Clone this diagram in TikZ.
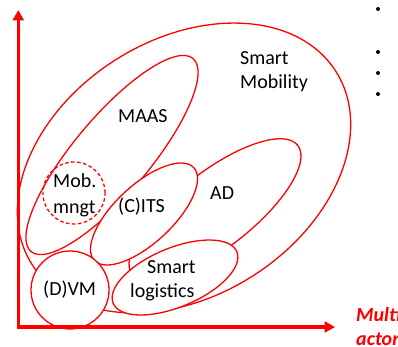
\documentclass[tikz,border=0pt]{standalone}
\usepackage{fontspec}
\setmainfont{Carlito}
\usetikzlibrary{shapes.geometric,arrows.meta}
\definecolor{sred}{RGB}{255,0,0}
\begin{document}
\begin{tikzpicture}[x=1pt,y=-1pt,
  blob/.style={ellipse, draw=sred, line width=1.3pt, fill=white, inner sep=0pt},
  ring/.style={circle, draw=sred, line width=1.3pt, inner sep=0pt},
  lbl/.style={font=\fontsize{20}{24}\selectfont, inner sep=0pt, anchor=base west, text=black},
  axislbl/.style={font=\fontsize{20}{24}\selectfont\bfseries\itshape, inner sep=0pt, anchor=base west, text=sred},
  axis/.style={draw=sred, line width=3.2pt,
    {Triangle[length=10.5pt,width=11pt]}-{Triangle[length=10.5pt,width=11pt]}},
  dot/.style={circle, fill=black, inner sep=0pt, minimum size=4pt}]
\useasboundingbox[fill=white] (0,0) rectangle (398,347);

% nested fields, back to front
\node[blob, minimum width=360pt, minimum height=256pt, rotate=32.5] (smob) at (184,168) {};
\node[blob, minimum width=252pt, minimum height=76pt, rotate=50] (maas) at (112,155) {};
\node[blob, minimum width=210pt, minimum height=76pt, rotate=38] (ad) at (215,210) {};
\node[blob, minimum width=136pt, minimum height=58pt, rotate=43] (cits) at (144,214) {};
\node[blob, minimum width=134pt, minimum height=59pt, rotate=22.6] (slog) at (175,277.5) {};
\node[ring, fill=white, minimum size=78pt] (dvm) at (70,290) {};
\node[ring, dashed, dash pattern=on 3.5pt off 2.5pt, minimum size=62pt] (mob) at (74,193) {};

% axes
\coordinate (orig) at (18.3,327);
\coordinate (ytip) at (18.3,10);
\coordinate (xtip) at (335,327);
\draw[axis] (ytip) -- (orig) -- (xtip);

% labels
\node[lbl] (smobA) at (240,65) {Smart};
\node[lbl] (smobB) at (240,89) {Mobility};
\node[lbl] (maasT) at (118,122.5) {MAAS};
\node[lbl] (mobA) at (53,188) {Mob.};
\node[lbl] (mobB) at (53,213) {mngt};
\node[lbl] (citsT) at (118,212) {(C)ITS};
\node[lbl] (adT) at (210,199) {AD};
\node[lbl] (slogA) at (147,273) {Smart};
\node[lbl] (slogB) at (130,297) {logistics};
\node[lbl] (dvmT) at (43,295) {(D)VM};

% x-axis caption, running past the right edge
\node[axislbl] (xlblA) at (356,321) {Multi};
\node[axislbl] (xlblB) at (356,345) {actor};

% list bullets
\node[dot] (b1) at (378,9) {};
\node[dot] (b2) at (378,52) {};
\node[dot] (b3) at (378,73) {};
\node[dot] (b4) at (378,94) {};
\end{tikzpicture}
\end{document}
